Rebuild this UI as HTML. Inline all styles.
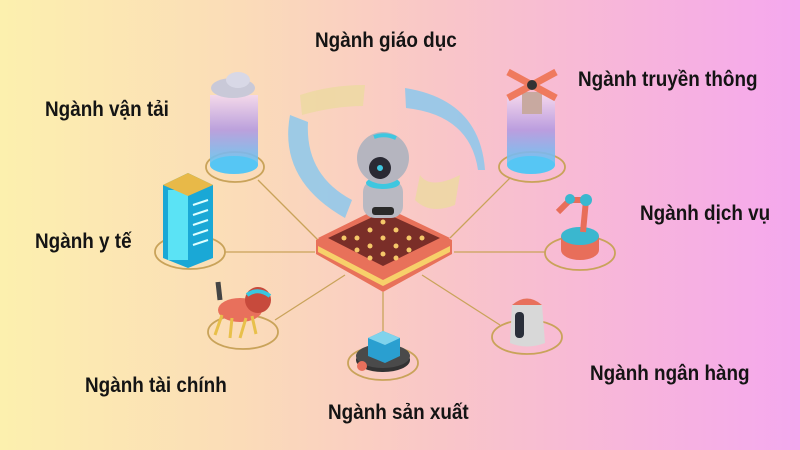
<!DOCTYPE html>
<html><head><meta charset="utf-8"><style>
html,body{margin:0;padding:0}
body{width:800px;height:450px;overflow:hidden;background:linear-gradient(90deg,#fcf0ae 0%,#fbdcb8 30%,#f9c6c8 55%,#f7b4dc 80%,#f5a8ee 100%);position:relative;font-family:"Liberation Sans",sans-serif}
.l{position:absolute;font-weight:bold;font-size:21px;color:#141414;white-space:nowrap;transform:scaleX(0.9);transform-origin:left top}
svg{position:absolute;left:0;top:0}
</style></head><body>
<svg width="800" height="450" viewBox="0 0 800 450">
<defs>
<linearGradient id="cyl" x1="0" y1="0" x2="0" y2="1"><stop offset="0" stop-color="#f3d8ef"/><stop offset="0.5" stop-color="#b49ae0"/><stop offset="1" stop-color="#5fc8f5"/></linearGradient>
</defs>
<g stroke="#c9a35a" stroke-width="1.3" fill="none">
<line x1="318" y1="240" x2="258" y2="180"/>
<line x1="315" y1="252" x2="225" y2="252"/>
<line x1="345" y1="275" x2="275" y2="320"/>
<line x1="383" y1="292" x2="383" y2="348"/>
<line x1="422" y1="275" x2="500" y2="325"/>
<line x1="454" y1="252" x2="545" y2="252"/>
<line x1="450" y1="238" x2="510" y2="178"/>
<ellipse cx="235" cy="167" rx="29" ry="15" stroke-width="1.8"/>
<ellipse cx="190" cy="252" rx="35" ry="17" stroke-width="1.8"/>
<ellipse cx="532" cy="167" rx="33" ry="15" stroke-width="1.8"/>
<ellipse cx="580" cy="253" rx="35" ry="17" stroke-width="1.8"/>
<ellipse cx="243" cy="332" rx="35" ry="17" stroke-width="1.8"/>
<ellipse cx="383" cy="363" rx="35" ry="17" stroke-width="1.8"/>
<ellipse cx="527" cy="337" rx="35" ry="17" stroke-width="1.8"/>
</g>
<rect x="210" y="95" width="48" height="70" fill="url(#cyl)" opacity="0.9"/>
<ellipse cx="234" cy="165" rx="24" ry="9" fill="#56c6f4"/>
<ellipse cx="233" cy="88" rx="22" ry="10" fill="#c9c9d8"/>
<ellipse cx="238" cy="80" rx="12" ry="8" fill="#d8d8e6"/>
<rect x="507" y="95" width="48" height="70" fill="url(#cyl)" opacity="0.9"/>
<ellipse cx="531" cy="165" rx="24" ry="9" fill="#56c6f4"/>
<rect x="522" y="92" width="20" height="22" fill="#c8a9a0"/>
<g stroke="#ef7a5e" stroke-width="7"><line x1="508" y1="72" x2="556" y2="98"/><line x1="556" y1="72" x2="508" y2="98"/></g>
<circle cx="532" cy="85" r="5" fill="#333"/>
<polygon points="163,185 188,173 213,185 213,258 188,268 163,258" fill="#1aa8d6"/>
<rect x="168" y="190" width="20" height="70" fill="#5be3f5"/>
<polygon points="163,185 188,173 213,185 188,196" fill="#e8b948"/>
<g stroke="#dff" stroke-width="2"><line x1="193" y1="205" x2="208" y2="200"/><line x1="193" y1="215" x2="208" y2="210"/><line x1="193" y1="225" x2="208" y2="220"/><line x1="193" y1="235" x2="208" y2="230"/><line x1="193" y1="245" x2="208" y2="240"/></g>
<ellipse cx="580" cy="250" rx="19" ry="10" fill="#e86e5a"/>
<rect x="561" y="236" width="38" height="14" fill="#e86e5a"/>
<ellipse cx="580" cy="236" rx="19" ry="9" fill="#3ab7cf"/>
<path d="M583 232 L586 200 L570 200 L558 212" stroke="#e86e5a" stroke-width="6" fill="none"/>
<circle cx="586" cy="200" r="6" fill="#3ab7cf"/><circle cx="570" cy="199" r="5" fill="#3ab7cf"/>
<ellipse cx="240" cy="310" rx="22" ry="12" fill="#e8705c"/>
<circle cx="258" cy="300" r="13" fill="#c74a3c"/><path d="M247 295 Q258 287 270 296" stroke="#38c7e0" stroke-width="4" fill="none"/>
<path d="M220 300 L218 282" stroke="#444" stroke-width="5"/>
<g stroke="#e8c04a" stroke-width="3"><line x1="222" y1="315" x2="215" y2="335"/><line x1="232" y1="318" x2="230" y2="338"/><line x1="246" y1="318" x2="240" y2="338"/><line x1="252" y1="316" x2="256" y2="334"/></g>
<ellipse cx="383" cy="360" rx="27" ry="12" fill="#333"/>
<ellipse cx="383" cy="356" rx="27" ry="12" fill="#4a4a4a"/>
<circle cx="362" cy="366" r="5" fill="#e8705c"/>
<polygon points="368,338 383,331 400,338 400,356 385,363 368,356" fill="#2a9fd0"/>
<polygon points="368,338 383,331 400,338 385,345" fill="#7fd3ec"/>
<path d="M512 305 Q527 292 542 305 L545 343 Q527 350 510 343 Z" fill="#d8d8d8"/>
<path d="M512 305 Q527 292 542 305" fill="#e8705c"/>
<rect x="515" y="312" width="9" height="26" rx="4" fill="#2a2f3a"/>
<path d="M290 115 Q278 180 345 218 L352 200 Q305 175 308 122 Z" fill="#8cc8ec" opacity="0.85"/>
<path d="M405 88 Q480 100 485 170 L478 170 Q470 115 406 108 Z" fill="#8cc8ec" opacity="0.85"/>
<path d="M300 95 Q330 85 365 85 L363 106 Q335 106 302 115 Z" fill="#ecd9a0" opacity="0.8"/>
<path d="M420 175 Q430 190 460 175 L455 205 Q430 215 415 200 Z" fill="#ecd9a0" opacity="0.8"/>
<polygon points="316,240 383,207 452,240 452,254 383,292 316,254" fill="#e8715a"/>
<polygon points="318,246 383,280 450,246 450,252 383,286 318,252" fill="#f7d06a"/>
<polygon points="318,238 383,206 450,238 383,273" fill="#e8715a"/>
<polygon points="328,238 383,212 440,238 383,266" fill="#7a2e28"/>
<g fill="#f5c86a">
<circle cx="383" cy="222" r="2.5"/><circle cx="370" cy="230" r="2.5"/><circle cx="396" cy="230" r="2.5"/><circle cx="357" cy="238" r="2.5"/><circle cx="383" cy="238" r="2.5"/><circle cx="409" cy="238" r="2.5"/><circle cx="344" cy="238" r="2.5"/><circle cx="422" cy="238" r="2.5"/><circle cx="370" cy="246" r="2.5"/><circle cx="396" cy="246" r="2.5"/><circle cx="357" cy="250" r="2.5"/><circle cx="409" cy="250" r="2.5"/><circle cx="383" cy="254" r="2.5"/><circle cx="370" cy="258" r="2.5"/><circle cx="396" cy="258" r="2.5"/>
</g>
<rect x="363" y="180" width="40" height="38" rx="12" fill="#b9b9c2"/>
<rect x="372" y="207" width="22" height="8" rx="3" fill="#2a2a2a"/>
<ellipse cx="383" cy="183" rx="17" ry="6" fill="#3ec7e0"/>
<circle cx="383" cy="158" r="26" fill="#b5b5bf"/>
<circle cx="380" cy="168" r="11" fill="#2a2a34"/>
<circle cx="380" cy="168" r="3" fill="#3ec7e0"/>
<path d="M374 137 Q385 133 396 138" stroke="#3ec7e0" stroke-width="4" fill="none"/>
</svg>
<div class="l" style="left:315px;top:29px">Ngành giáo dục</div>
<div class="l" style="left:45px;top:98px">Ngành vận tải</div>
<div class="l" style="left:578px;top:68px">Ngành truyền thông</div>
<div class="l" style="left:640px;top:202px">Ngành dịch vụ</div>
<div class="l" style="left:35px;top:230px">Ngành y tế</div>
<div class="l" style="left:85px;top:374px">Ngành tài chính</div>
<div class="l" style="left:328px;top:401px">Ngành sản xuất</div>
<div class="l" style="left:590px;top:362px">Ngành ngân hàng</div>
</body></html>
